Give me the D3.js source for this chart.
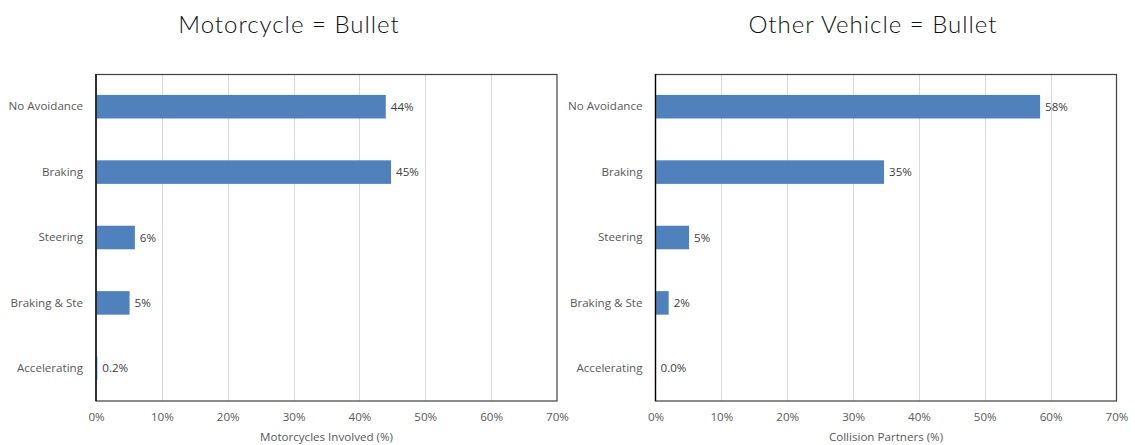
<!DOCTYPE html>
<html>
<head>
<meta charset="utf-8">
<script src="https://cdn.jsdelivr.net/npm/d3@7"></script>
<style>
  html, body { margin: 0; padding: 0; background: #fff; }
  svg { display: block; }
</style>
</head>
<body>
<svg id="chart" width="1135" height="445"></svg>
<script>
// Avoidance manoeuvres, share of each group (%)
const categories = ["No Avoidance", "Braking", "Steering", "Braking & Ste", "Accelerating"];
const motorcycleValues = [44.0, 44.8, 5.9, 5.1, 0.2];
const partnerValues = [58.4, 34.7, 5.1, 2.0, 0.0];
const tickValues = [0, 10, 20, 30, 40, 50, 60, 70];
const panelTitles = ["Motorcycle = Bullet", "Other Vehicle = Bullet"];
const axisTitles = ["Motorcycles Involved (%)", "Collision Partners (%)"];

const svg = d3.select("#chart");
const labelFont = "'Open Sans', 'DejaVu Sans', sans-serif";
const labelSize = 11.6;
const textGrey = "#595959";

const panels = [
  { left: 96, right: 557, titleX: 289, values: motorcycleValues, title: panelTitles[0], axisTitle: axisTitles[0] },
  { left: 655.5, right: 1116.5, titleX: 873, values: partnerValues, title: panelTitles[1], axisTitle: axisTitles[1] }
];
const plotTop = 74, plotBottom = 401;

function fmt(v) {
  return v < 1 ? v.toFixed(1) + "%" : Math.round(v) + "%";
}

panels.forEach(p => {
  const x = d3.scaleLinear().domain([0, 70]).range([p.left, p.right]);
  const y = d3.scaleBand().domain(categories).range([plotTop, plotBottom]).paddingInner(0.64).paddingOuter(0.32);
  const g = svg.append("g");

  // title
  g.append("text")
    .attr("x", p.titleX).attr("y", 33)
    .attr("text-anchor", "middle")
    .attr("font-family", "Lato, 'Noto Sans', sans-serif")
    .attr("font-weight", 300)
    .attr("font-size", 24)
    .attr("letter-spacing", 1)
    .attr("fill", "#111")
    .text(p.title);

  // vertical gridlines
  g.selectAll("line.grid").data(tickValues.slice(1, -1)).join("line")
    .attr("class", "grid")
    .attr("x1", d => Math.round(x(d)) + 0.5).attr("x2", d => Math.round(x(d)) + 0.5)
    .attr("y1", plotTop).attr("y2", plotBottom)
    .attr("stroke", "#d9d9d9").attr("stroke-width", 1);

  // plot frame
  g.append("rect")
    .attr("x", x(0)).attr("y", plotTop + 0.5)
    .attr("width", x(70) - x(0)).attr("height", plotBottom - plotTop - 0.5)
    .attr("fill", "none").attr("stroke", "#404040").attr("stroke-width", 1.2);

  // bars
  g.selectAll("rect.bar").data(p.values).join("rect")
    .attr("class", "bar")
    .attr("x", x(0))
    .attr("y", (d, i) => y(categories[i]))
    .attr("width", d => x(d) - x(0))
    .attr("height", y.bandwidth())
    .attr("fill", "#4f81bd");

  // left axis line
  g.append("line")
    .attr("x1", x(0)).attr("x2", x(0)).attr("y1", plotTop).attr("y2", plotBottom)
    .attr("stroke", "#000").attr("stroke-width", 1.3);

  // value labels
  g.selectAll("text.val").data(p.values).join("text")
    .attr("class", "val")
    .attr("x", d => x(d) + 5)
    .attr("y", (d, i) => y(categories[i]) + y.bandwidth() / 2)
    .attr("dy", "0.35em")
    .attr("font-family", labelFont).attr("font-size", labelSize)
    .attr("fill", "#404040")
    .text(d => fmt(d));

  // category axis
  const yAxis = d3.axisLeft(y).tickSize(0).tickPadding(13);
  const ya = g.append("g").attr("transform", `translate(${x(0)},0)`).call(yAxis);
  ya.select(".domain").remove();
  ya.selectAll("text").attr("font-family", labelFont).attr("font-size", labelSize).attr("fill", textGrey);

  // value axis
  const xAxis = d3.axisBottom(x).tickValues(tickValues).tickSize(0).tickPadding(12).tickFormat(d => d + "%");
  const xa = g.append("g").attr("transform", `translate(0,${plotBottom})`).call(xAxis);
  xa.select(".domain").remove();
  xa.selectAll("text").attr("font-family", labelFont).attr("font-size", labelSize).attr("fill", textGrey);

  // axis title
  g.append("text")
    .attr("x", (p.left + p.right) / 2).attr("y", 441)
    .attr("text-anchor", "middle")
    .attr("font-family", labelFont).attr("font-size", labelSize)
    .attr("fill", textGrey)
    .text(p.axisTitle);
});
</script>
</body>
</html>
